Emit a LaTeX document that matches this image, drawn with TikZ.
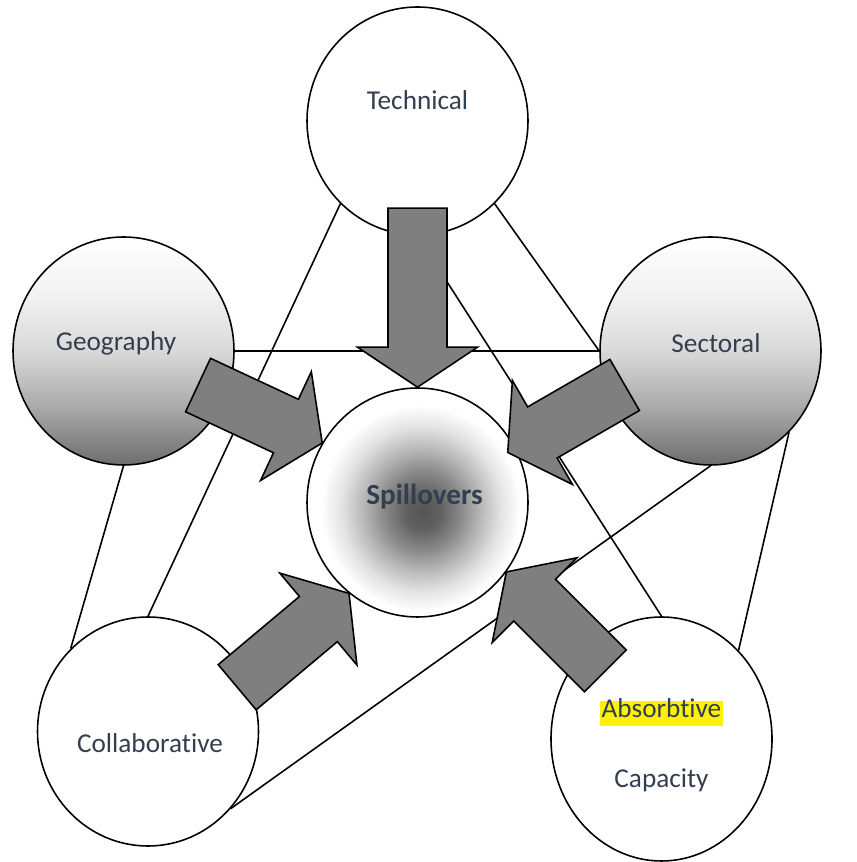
\documentclass[tikz,border=0pt]{standalone}
\usepackage{fontspec}
\setmainfont{Carlito}[Ligatures=NoCommon]
\usepackage{tikz}
\usetikzlibrary{shapes,calc,positioning,backgrounds}

\definecolor{txtgray}{HTML}{333F4F}
\definecolor{arrgray}{HTML}{7F7F7F}
\pgfdeclareradialshading{spillshade}{\pgfpoint{1.3bp}{-2.2bp}}{color(0bp)=(black!67); color(4bp)=(black!62); color(9bp)=(black!45); color(13bp)=(black!29); color(18bp)=(black!11); color(22.5bp)=(white); color(50bp)=(white)}
\pgfdeclareverticalshading{fadeshade}{100bp}{color(0bp)=(black!57); color(25bp)=(black!57); color(37.5bp)=(black!34); color(50bp)=(black!15); color(62.5bp)=(black!5); color(75bp)=(white); color(100bp)=(white)}

% block arrow: tip, direction back to the tail, length
\newcommand{\bigarrow}[3]{%
\coordinate (hb) at ($(#1)+(#2:0.8)$);
\coordinate (tl) at ($(#1)+(#2:#3)$);
\draw[blockarr] ($(tl)!0.59cm!90:(#1)$) -- ($(hb)!0.59cm!90:(#1)$) -- ($(hb)!1.2cm!90:(#1)$) -- (#1)
 -- ($(hb)!1.2cm!-90:(#1)$) -- ($(hb)!0.59cm!-90:(#1)$) -- ($(tl)!0.59cm!-90:(#1)$) -- cycle;
}

\begin{document}
\begin{tikzpicture}
[font=\fontsize{15.5}{18}\selectfont, text=txtgray,
circ/.style={draw=black,line width=.9pt,ellipse,inner sep=0pt,minimum width=4.42cm,minimum height=4.56cm,fill=white},
grad/.style={circ,shading=fadeshade},
edge/.style={line width=.9pt},
blockarr/.style={draw=black,line width=.9pt,fill=arrgray,line join=miter}]
\useasboundingbox (0,0) rectangle (17.12,17.24);
\node (tech) [circ] at (8.35,14.82) {};
\node (geo) [grad] at (2.47,10.22) {};
\node (sec) [grad] at (14.21,10.22) {};
\node (spill) [circ,shading=spillshade,minimum height=4.58cm] at (8.35,7.19) {};
\node (col) [circ,minimum height=4.58cm] at (2.96,2.61) {};
\node (abs) [circ,minimum height=4.88cm] at (13.23,2.46) {};
%%
\node (techlbl) at ($(tech)+(0,0.42)$) {Technical};
\node (geolbl) at ($(geo)+(-0.15,0.15)$) {Geography};
\node (seclbl) at ($(sec)+(0.11,0.15)$) {Sectoral};
\node (spilllbl) at ($(spill)+(0.14,0.11)$) {\fontsize{16.6}{19}\selectfont\bfseries Spillovers};
\node (collbl) at ($(col)+(0.04,-0.23)$) {Collaborat\kern0pt ive};
\node (abslbl) [fill=yellow,inner xsep=1pt,inner ysep=2.2pt,text height=.75em,text depth=.25em] at ($(abs)+(0,0.51)$) {Absorbt\kern0pt ive};
\node (caplbl) at ($(abs)+(0,-0.82)$) {Capacity};
%%
\draw[edge] (tech.227) -- (col.north);
\draw[edge] (tech.313) -- (sec.west);
\draw[edge] (geo.east) -- (sec.west);
\draw[edge] (geo.south) -- (col.133);
\draw[edge] (tech.south) -- (abs.north);
\draw[edge] (sec.south) -- (col.317);
\draw[edge] (sec.314) -- (abs.49);
%%
\coordinate (sectip) at ($(spill.29)!0.18cm!(spill)$);
\bigarrow{spill.north}{90}{3.58}
\bigarrow{spill.148}{155}{2.74}
\bigarrow{sectip}{30}{2.7}
\bigarrow{spill.233}{220}{2.92}
\bigarrow{spill.322}{315}{2.8}
%%
\end{tikzpicture}
\end{document}
